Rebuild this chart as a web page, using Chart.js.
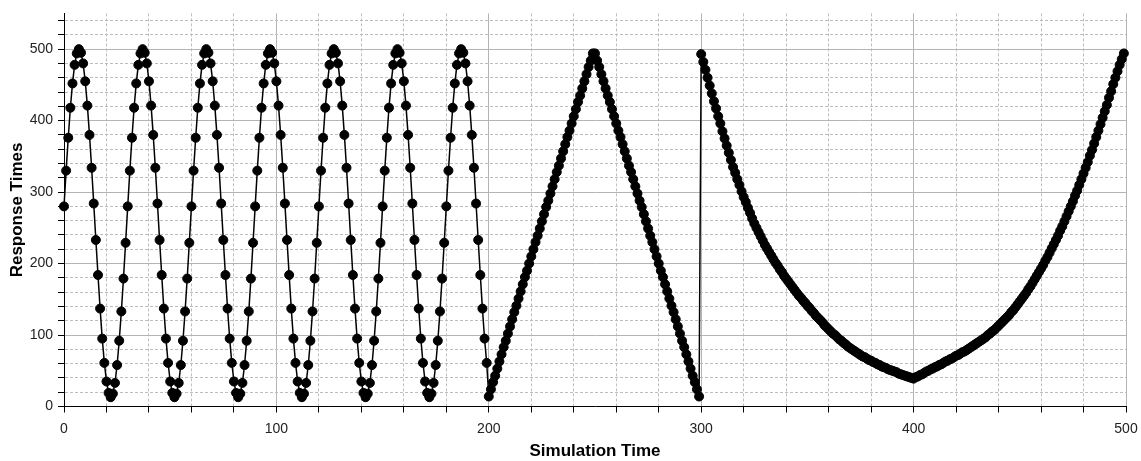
<!DOCTYPE html>
<html>
<head>
<meta charset="utf-8">
<title>Response Times</title>
<script src="https://cdn.jsdelivr.net/npm/chart.js@4.4.0/dist/chart.umd.min.js"></script>
<style>
  html, body { margin: 0; padding: 0; background: #fff; }
  #wrap { width: 1141px; height: 461px; position: relative; }
</style>
</head>
<body>
<div id="wrap"><canvas id="grafico"></canvas></div>
<script>
// tempo 0..199 - onda senoidal, periodo ~30
var sineResp = [
    280, 330, 376, 418, 452, 478, 494, 500, 495, 480, 455, 421, 380, 334, 284, 233, 184, 137, 95, 61, 35, 19, 13, 18, 33, 58, 92, 133, 179, 229,
    280, 330, 376, 418, 452, 478, 494, 500, 495, 480, 455, 421, 380, 334, 284, 233, 184, 137, 95, 61, 35, 19, 13, 18, 33, 58, 92, 133, 179, 229,
    280, 330, 376, 418, 452, 478, 494, 500, 495, 480, 455, 421, 380, 334, 284, 233, 184, 137, 95, 61, 35, 19, 13, 18, 33, 58, 92, 133, 179, 229,
    280, 330, 376, 418, 452, 478, 494, 500, 495, 480, 455, 421, 380, 334, 284, 233, 184, 137, 95, 61, 35, 19, 13, 18, 33, 58, 92, 133, 179, 229,
    280, 330, 376, 418, 452, 478, 494, 500, 495, 480, 455, 421, 380, 334, 284, 233, 184, 137, 95, 61, 35, 19, 13, 18, 33, 58, 92, 133, 179, 229,
    280, 330, 376, 418, 452, 478, 494, 500, 495, 480, 455, 421, 380, 334, 284, 233, 184, 137, 95, 61, 35, 19, 13, 18, 33, 58, 92, 133, 179, 229,
    280, 330, 376, 418, 452, 478, 494, 500, 495, 480, 455, 421, 380, 334, 284, 233, 184, 137, 95, 61
];
// tempo 200..299 - triangulo
var triangleResp = [
    14, 24, 34, 43, 53, 63, 73, 83, 92, 102, 112, 122, 132, 141, 151, 161, 171, 181, 190, 200,
    210, 220, 230, 239, 249, 259, 269, 279, 288, 298, 308, 318, 328, 337, 347, 357, 367, 377, 386, 396,
    406, 416, 426, 435, 445, 455, 465, 475, 484, 494,
    494, 484, 475, 465, 455, 445, 435, 426, 416, 406, 396, 386, 377, 367, 357, 347, 337, 328, 318, 308,
    298, 288, 279, 269, 259, 249, 239, 230, 220, 210, 200, 190, 181, 171, 161, 151, 141, 132, 122, 112,
    102, 92, 83, 73, 63, 53, 43, 34, 24, 14
];
// tempo 300..399 - queda
var decayResp = [
    493, 482, 471, 460, 449, 438, 427, 417, 406, 396, 385, 375, 365, 355, 345, 335, 327, 318, 310, 301,
    293, 286, 278, 271, 263, 256, 250, 244, 238, 232, 226, 221, 216, 211, 206, 201, 197, 192, 188, 183,
    179, 175, 171, 167, 163, 159, 155, 152, 148, 145, 141, 138, 134, 131, 127, 124, 121, 118, 114, 111,
    108, 105, 102, 100, 97, 94, 92, 89, 87, 84, 82, 80, 78, 76, 74, 72, 70, 69, 67, 65,
    64, 62, 61, 59, 58, 56, 55, 54, 52, 51, 50, 49, 48, 46, 45, 44, 43, 42, 41, 40
];
// tempo 400..499 - subida
var riseResp = [
    39, 41, 42, 44, 45, 47, 49, 50, 52, 53, 55, 56, 58, 59, 61, 63, 64, 66, 67, 69,
    71, 72, 74, 76, 77, 79, 81, 83, 85, 87, 89, 91, 93, 95, 97, 100, 102, 105, 107, 110,
    113, 116, 119, 122, 125, 128, 132, 135, 139, 143, 147, 151, 155, 159, 164, 168, 173, 178, 183, 188,
    193, 198, 204, 209, 215, 221, 227, 233, 239, 246, 252, 259, 266, 273, 280, 287, 295, 302, 310, 318,
    326, 334, 342, 351, 359, 368, 377, 386, 395, 404, 413, 422, 432, 441, 451, 460, 469, 478, 486, 494
];
var segmentStart = [0, 200, 300, 400];

var xLabelTicks = [0, 100, 200, 300, 400, 500];
var yLabelTicks = [0, 100, 200, 300, 400, 500];

function montaPontos() {
    var segs = [sineResp, triangleResp, decayResp, riseResp];
    var pts = [];
    for (var s = 0; s < segs.length; s++) {
        for (var i = 0; i < segs[s].length; i++) {
            pts.push({ x: segmentStart[s] + i, y: segs[s][i] });
        }
    }
    return pts;
}

var FONTE = "'Liberation Sans', Arial, sans-serif";

function gridCor(ctx) {
    return (ctx.tick && ctx.tick.value % 100 === 0) ? '#b4b4b4' : '#bdbdbd';
}
function gridDash(ctx) {
    return (ctx.tick && ctx.tick.value % 100 !== 0) ? [3, 2] : [];
}

new Chart(document.getElementById('grafico'), {
    type: 'line',
    data: {
        datasets: [{
            label: 'Response Times',
            data: montaPontos(),
            borderColor: '#000',
            backgroundColor: '#000',
            borderWidth: 1.5,
            pointRadius: 4.5,
            pointBorderWidth: 1,
            pointBackgroundColor: '#000',
            pointBorderColor: '#000',
            tension: 0,
            fill: false,
            clip: false
        }]
    },
    options: {
        responsive: true,
        maintainAspectRatio: false,
        animation: false,
        layout: { padding: { top: 8, right: 15, left: 0, bottom: 0 } },
        plugins: { legend: { display: false }, tooltip: { enabled: false } },
        scales: {
            x: {
                type: 'linear',
                min: 0, max: 500,
                afterFit: function (sc) {
                    sc.height = 54.5;
                    sc.paddingLeft = 0;
                    sc.paddingRight = 0;
                },
                ticks: {
                    stepSize: 20, autoSkip: false, maxRotation: 0, padding: 8,
                    color: '#222', font: { family: FONTE, size: 14 },
                    callback: function (v) { return xLabelTicks.indexOf(v) >= 0 ? String(v) : ''; }
                },
                grid: { color: gridCor, lineWidth: 1, tickColor: '#000', tickLength: 6 },
                border: { color: '#000', width: 1, dash: gridDash },
                title: {
                    display: true, text: 'Simulation Time', color: '#000',
                    font: { family: FONTE, size: 17, weight: 'bold' },
                    padding: { top: 0, bottom: -1 }
                }
            },
            y: {
                min: 0, max: 550,
                afterFit: function (sc) { sc.width = 64; },
                ticks: {
                    stepSize: 20, autoSkip: false, includeBounds: false, padding: 5,
                    color: '#222', font: { family: FONTE, size: 14 },
                    callback: function (v) { return yLabelTicks.indexOf(v) >= 0 ? String(v) : ''; }
                },
                grid: { color: gridCor, lineWidth: 1, tickColor: '#000', tickLength: 6 },
                border: { color: '#000', width: 1, dash: gridDash },
                title: {
                    display: true, text: 'Response Times', color: '#000',
                    font: { family: FONTE, size: 17, weight: 'bold' },
                    padding: { top: 7, bottom: 0 }
                }
            }
        }
    }
});
</script>
</body>
</html>
